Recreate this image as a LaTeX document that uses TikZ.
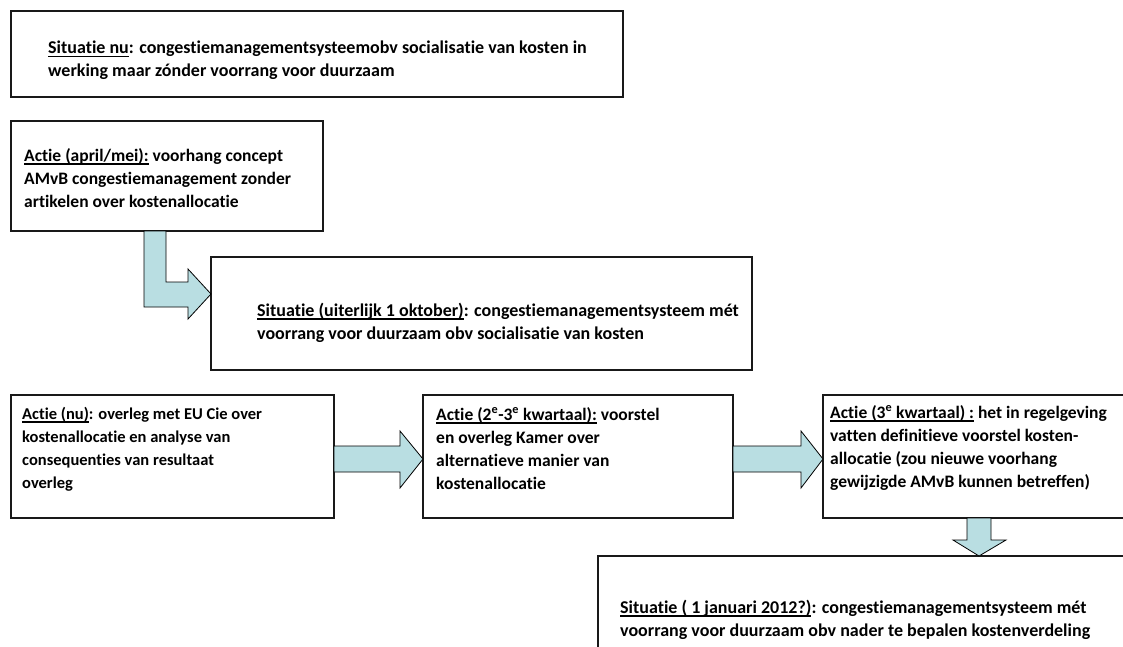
\documentclass[tikz,border=0pt]{standalone}
\usepackage{fontspec}
\setmainfont{Carlito}[Ligatures=NoCommon]
\usetikzlibrary{calc,shadows}
\definecolor{arrowfill}{RGB}{185,222,226}
\newcommand\myul[1]{\leavevmode\setbox0\hbox{#1}\rlap{\raisebox{-3.4pt}{\rule{\wd0}{1.6pt}}}\box0\relax}
\begin{document}
\begin{tikzpicture}[x=1pt,y=-1pt,
  box/.style={draw=black!90, line width=1.1pt, fill=white, anchor=north west, inner sep=0pt, outer sep=0pt,
     drop shadow={shadow xshift=1.4pt, shadow yshift=-1.4pt, fill=black!55, opacity=1}},
  txt/.style={anchor=north west, inner sep=0pt, align=left, font=\bfseries\fontsize{17.5}{23}\selectfont},
  big/.style={font=\bfseries\fontsize{18}{22.5}\selectfont},
  small/.style={font=\bfseries\fontsize{16.5}{23}\selectfont},
  blockarrow/.style={draw=black, line width=0.8pt, fill=arrowfill, line join=miter}]
\useasboundingbox (0,0) rectangle (1123,646);
\clip (0,0) rectangle (1123,646);
% boxes
\node[box, minimum width=612pt, minimum height=86pt] (b1) at (11,11) {};
\node[box, minimum width=312pt, minimum height=110pt] (b2) at (11,121) {};
\node[box, minimum width=541pt, minimum height=113pt] (b3) at (211,257) {};
\node[box, minimum width=323pt, minimum height=123pt] (b4) at (11,395) {};
\node[box, minimum width=310pt, minimum height=123pt] (b5) at (423,395) {};
\node[box, minimum width=330pt, minimum height=123pt] (b6) at (823,395) {};
\node[box, minimum width=540pt, minimum height=120pt] (b7) at (598,556) {};
% texts
\node[txt, big] (t1) at (48,41) {\myul{Situatie nu}: congestiemanagementsysteemobv socialisatie van kosten in\\werking maar zónder voorrang voor duurzaam};
\node[txt] (t2) at (24,148) {\myul{Actie (april/mei):} voorhang concept\\AMvB congestiemanagement zonder\\artikelen over kostenallocatie};
\node[txt, big] (t3) at (257,303) {\myul{Situatie (uiterlijk 1 oktober)}: congestiemanagementsysteem mét\\voorrang voor duurzaam obv socialisatie van kosten};
\node[txt, small] (t4) at (22,407) {\myul{Actie (nu)}: overleg met EU Cie over\\kostenallocatie en analyse van\\consequenties van resultaat\\overleg};
\node[txt] (t5) at (436,407) {\myul{Actie (2\textsuperscript{e}-3\textsuperscript{e} kwartaal):} voorstel\\en overleg Kamer over\\alternatieve manier van\\kostenallocatie};
\node[txt] (t6) at (830,405) {\myul{Actie (3\textsuperscript{e} kwartaal) :} het in regelgeving\\vatten definitieve voorstel kosten-\\allocatie (zou nieuwe voorhang\\gewijzigde AMvB kunnen betreffen)};
\node[txt, big] (t7) at (620,600) {\myul{Situatie ( 1 januari 2012?)}: congestiemanagementsysteem mét\\voorrang voor duurzaam obv nader te bepalen kostenverdeling};
% L-shaped arrow b2 -> b3
\draw[blockarrow] (144,0 |- b2.south) -- (166,0 |- b2.south) -- (166,282) -- (188,282) -- (188,269)
  -- (b3.west |- 0,294) -- (188,319) -- (188,307) -- (144,307) -- cycle;
% arrow b4 -> b5
\draw[blockarrow] (b4.east |- 0,446) -- (400,446) -- (400,431) -- (b5.west |- 0,459)
  -- (400,488) -- (400,472) -- (b4.east |- 0,472) -- cycle;
% arrow b5 -> b6
\draw[blockarrow] (b5.east |- 0,446) -- (801,446) -- (801,431) -- (b6.west |- 0,459)
  -- (801,488) -- (801,472) -- (b5.east |- 0,472) -- cycle;
% arrow b6 -> b7
\draw[blockarrow] (967,0 |- b6.south) -- (967,540) -- (953,540) -- (979,0 |- b7.north)
  -- (1006,540) -- (991,540) -- (991,0 |- b6.south) -- cycle;
\end{tikzpicture}
\end{document}
